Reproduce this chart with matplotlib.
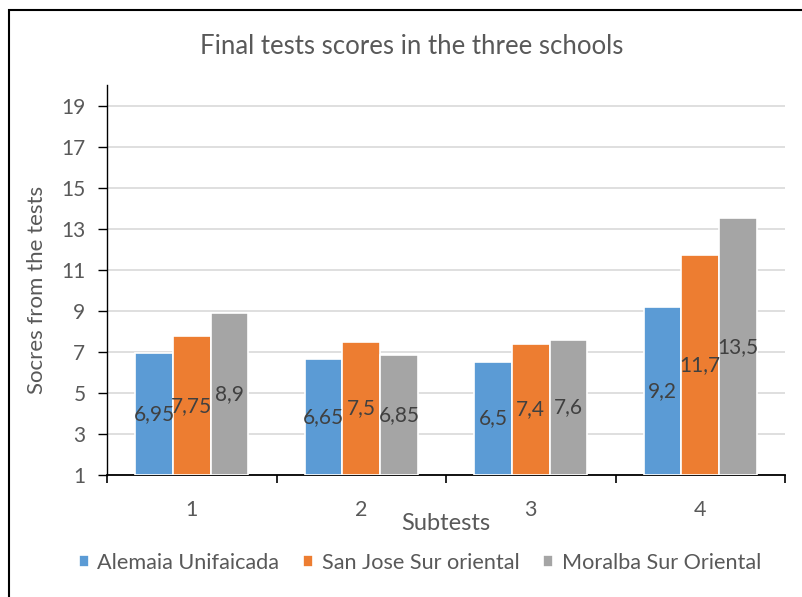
import matplotlib.pyplot as plt
import numpy as np
from matplotlib.patches import Rectangle

plt.rcParams['font.family'] = ['Lato', 'DejaVu Sans']

# data
subtests = ['1', '2', '3', '4']
alemaia = [6.95, 6.65, 6.5, 9.2]
san_jose = [7.75, 7.5, 7.4, 11.7]
moralba = [8.9, 6.85, 7.6, 13.5]
series_names = ['Alemaia Unifaicada', 'San Jose Sur oriental', 'Moralba Sur Oriental']
colors = ['#5B9BD5', '#ED7D31', '#A5A5A5']

fig = plt.figure(figsize=(8.02, 5.97), dpi=100)
ax = fig.add_axes([107 / 802, 122 / 597, 678 / 802, 390 / 597])

# chart border (runs off the right/bottom edge like the original)
fig.patches.append(Rectangle((9 / 802, -0.05), 1.1, (597 - 10) / 597 + 0.05,
                             transform=fig.transFigure, fill=False,
                             edgecolor='black', linewidth=1.5))

x = np.arange(len(subtests))
w = 0.222
base = 1
for i, (vals, name, c) in enumerate(zip([alemaia, san_jose, moralba], series_names, colors)):
    heights = [v - base for v in vals]
    bars = ax.bar(x + (i - 1) * w, heights, w, bottom=base, color=c,
                  edgecolor='white', linewidth=1.2, label=name, zorder=3)
    ax.bar_label(bars, labels=[('%g' % v).replace('.', ',') for v in vals],
                 label_type='center', fontsize=15, color='#404040', zorder=4)

ax.set_xlim(-0.5, 3.5)
ax.set_ylim(1, 20)
ax.set_yticks(range(1, 20, 2))
ax.yaxis.grid(True, color='#D9D9D9', linewidth=1.2, zorder=0)
ax.set_axisbelow(True)

ax.set_xticks(x)
ax.set_xticklabels(subtests)
ax.set_xticks(np.arange(-0.5, 4, 1), minor=True)
ax.tick_params(axis='x', which='major', length=0, labelsize=15.5, labelcolor='#595959', pad=18)
ax.tick_params(axis='x', which='minor', length=6, width=1.2, direction='out')
ax.tick_params(axis='y', length=6.5, width=1, labelsize=15, labelcolor='#595959', pad=9)

for s in ['top', 'right']:
    ax.spines[s].set_visible(False)
ax.spines['left'].set_linewidth(1)
ax.spines['bottom'].set_linewidth(1.3)

fig.text(412 / 802, 1 - 47 / 597, 'Final tests scores in the three schools',
         fontsize=18.5, color='#595959', ha='center', va='center')
ax.set_xlabel('Subtests', fontsize=17, color='#595959')
ax.xaxis.set_label_coords(0.5, (475 - 523) / 390)
ax.set_ylabel('Socres from the tests', fontsize=16, color='#595959')
ax.yaxis.set_label_coords((37 - 107) / 678, 0.474)
ax.xaxis.label.set_va('center')
ax.yaxis.label.set_va('center')

fig.legend(loc='center', bbox_to_anchor=(420 / 802, 34 / 597), ncol=3, frameon=False,
           fontsize=15.6, labelcolor='#595959', handlelength=0.45, handleheight=0.45,
           handletextpad=0.4, columnspacing=1.1)

plt.savefig('out.png', dpi=100)
